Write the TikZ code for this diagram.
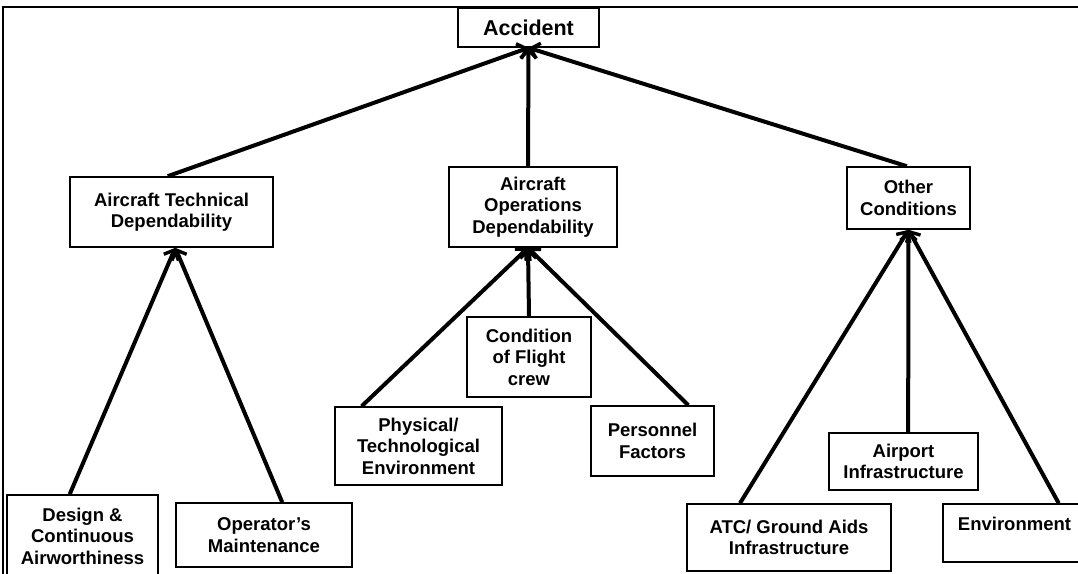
\documentclass[tikz,border=0pt]{standalone}
\usepackage{fontspec}
\setmainfont{Liberation Sans}
\usetikzlibrary{arrows.meta}
\tikzset{
  blk/.style={draw, line width=1.6pt, align=center, inner sep=0pt,
    font=\bfseries\fontsize{18.5}{21.5}\selectfont},
  conn/.style={line width=4pt, -{Straight Barb[length=8pt,width=16pt,line width=3.4pt]}},
  frame/.style={line width=2.2pt}
}
\begin{document}
\begin{tikzpicture}[x=1pt,y=-1pt]
\useasboundingbox (0,0) rectangle (1078,573);
\clip (0,0) rectangle (1078,573);
\draw[frame] (3,580) -- (3,7) -- (1085,7);
% nodes
\node[blk, minimum width=141pt, minimum height=39pt,
  font=\bfseries\fontsize{21.5}{24}\selectfont] (acc) at (528.5,27.5) {Accident};
\node[blk, minimum width=203pt, minimum height=70pt] (atd) at (171.5,212) {Aircraft Technical\\Dependability};
\node[blk, minimum width=168pt, minimum height=80pt] (aod) at (533,207) {Aircraft\\Operations\\Dependability};
\node[blk, minimum width=123pt, minimum height=62pt] (oc) at (908.5,198) {Other\\Conditions};
\node[blk, minimum width=151pt, minimum height=82pt] (des) at (82.5,536) {Design \&\\Continuous\\Airworthiness};
\node[blk, minimum width=176pt, minimum height=64pt] (opm) at (264,535) {Operator’s\\Maintenance};
\node[blk, minimum width=167pt, minimum height=78pt] (phy) at (418.5,446) {Physical/\\Technological\\Environment};
\node[blk, minimum width=124pt, minimum height=80pt] (cfc) at (529,357) {Condition\\of Flight\\crew};
\node[blk, minimum width=123pt, minimum height=70pt] (per) at (652.5,441) {Personnel\\Factors};
\node[blk, minimum width=204pt, minimum height=67pt] (atc) at (789,537.5) {ATC/ Ground Aids\\Infrastructure};
\node[blk, minimum width=149pt, minimum height=57pt] (apt) at (903.5,461.5) {Airport\\Infrastructure};
\node[blk, minimum width=143pt, text height=26pt, text depth=32pt] (env) at (1014.5,533) {Environment};
% connectors
\draw[conn] (atd.96) -- (acc.south);
\draw[conn] (aod.97) -- (acc.south);
\draw[conn] (oc.93) -- (acc.south);
\draw[conn] (des.107) -- (atd.-84);
\draw[conn] (opm.61) -- (atd.-84);
\draw[conn] (phy.145) -- (aod.-97);
\draw[conn] (cfc.north) -- (aod.-97);
\draw[conn] (per.45) -- (aod.-97);
\draw[conn] (atc.145) -- (oc.south);
\draw[conn] (apt.81) -- (oc.south);
\draw[conn] (env.34) -- (oc.south);
\end{tikzpicture}
\end{document}
